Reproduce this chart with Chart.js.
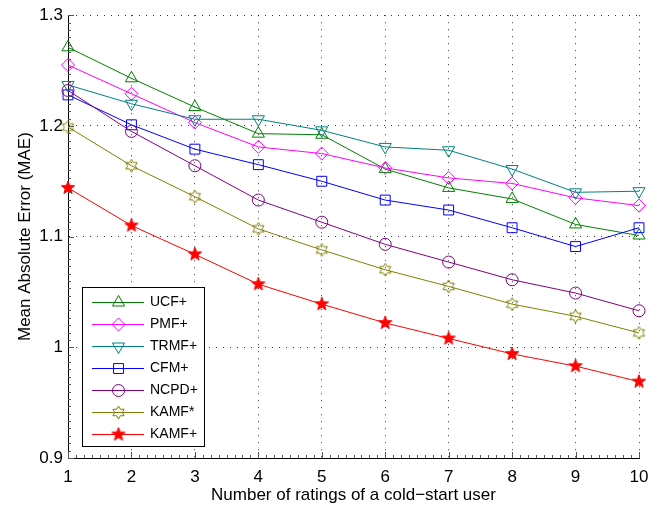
<!DOCTYPE html>
<html>
<head>
<meta charset="utf-8">
<script src="https://cdn.jsdelivr.net/npm/chart.js@4/dist/chart.umd.min.js"></script>
<style>
  html, body { margin: 0; padding: 0; background: #fff; }
  #wrap { width: 670px; height: 510px; }
</style>
</head>
<body>
<div id="wrap"><canvas id="chart" width="670" height="510"></canvas></div>
<script>
// Data
const ratings = ["1", "2", "3", "4", "5", "6", "7", "8", "9", "10"];
const ucf = [1.271, 1.243, 1.217, 1.193, 1.192, 1.161, 1.144, 1.134, 1.111, 1.101];
const pmf = [1.255, 1.229, 1.203, 1.181, 1.175, 1.162, 1.153, 1.148, 1.135, 1.128];
const trmf = [1.237, 1.220, 1.206, 1.206, 1.196, 1.181, 1.178, 1.161, 1.140, 1.141];
const cfm = [1.228, 1.201, 1.179, 1.165, 1.150, 1.133, 1.124, 1.108, 1.091, 1.108];
const ncpd = [1.232, 1.195, 1.164, 1.133, 1.113, 1.093, 1.077, 1.061, 1.049, 1.033];
const kamfStar = [1.199, 1.164, 1.136, 1.107, 1.088, 1.070, 1.055, 1.039, 1.028, 1.013];
const kamfPlus = [1.144, 1.110, 1.084, 1.057, 1.039, 1.022, 1.008, 0.994, 0.983, 0.969];
const yTicks = [0.9, 1.0, 1.1, 1.2, 1.3];

const FONT = "'Liberation Sans', Arial, Helvetica, sans-serif";

// star shaped markers drawn on small canvases
function makeStar(points, outer, inner, color, filled) {
  const size = Math.ceil(outer * 2 + 4);
  const c = document.createElement("canvas");
  c.width = size;
  c.height = size;
  const g = c.getContext("2d");
  const cx = size / 2, cy = size / 2;
  g.beginPath();
  for (let i = 0; i < points * 2; i++) {
    const r = i % 2 === 0 ? outer : inner;
    const a = -Math.PI / 2 + (i * Math.PI) / points;
    const px = cx + r * Math.cos(a);
    const py = cy + r * Math.sin(a);
    if (i === 0) g.moveTo(px, py);
    else g.lineTo(px, py);
  }
  g.closePath();
  if (filled) {
    g.fillStyle = color;
    g.fill();
  }
  g.strokeStyle = color;
  g.lineWidth = 1;
  g.stroke();
  return c;
}

const hexagram = makeStar(6, 6.5, 3.75, "#808000", false);
const pentagram = makeStar(5, 7, 2.9, "#ff0000", true);

function series(label, data, color, style, radius, rotation, order) {
  return {
    label: label,
    data: data,
    borderColor: color,
    backgroundColor: "rgba(0,0,0,0)",
    borderWidth: 1,
    pointStyle: style,
    pointRadius: radius,
    pointHoverRadius: radius,
    pointRotation: rotation || 0,
    pointBorderColor: color,
    pointBackgroundColor: "rgba(0,0,0,0)",
    pointBorderWidth: 1,
    tension: 0,
    fill: false,
    order: order,
  };
}

const datasets = [
  series("UCF+", ucf, "#008000", "triangle", 7, 0, 7),
  series("PMF+", pmf, "#ff00ff", "rectRot", 6.5, 0, 6),
  series("TRMF+", trmf, "#008080", "triangle", 7, 180, 5),
  series("CFM+", cfm, "#0000ff", "rect", 7, 0, 4),
  series("NCPD+", ncpd, "#800080", "circle", 6, 0, 3),
  series("KAMF*", kamfStar, "#808000", hexagram, 6, 0, 2),
  series("KAMF+", kamfPlus, "#ff0000", pentagram, 7, 0, 1),
];

// MATLAB-like inward ticks and minor ticks
const axisTicks = {
  id: "axisTicks",
  afterDraw(chart) {
    const { ctx, chartArea } = chart;
    const xs = chart.scales.x;
    const ys = chart.scales.y;
    ctx.save();
    ctx.strokeStyle = "#555";
    ctx.lineWidth = 1;
    ctx.beginPath();
    for (let i = 0; i < ratings.length; i++) {
      const px = Math.round(xs.getPixelForValue(i)) + 0.5;
      ctx.moveTo(px, chartArea.bottom);
      ctx.lineTo(px, chartArea.bottom - 6);
      if (i < ratings.length - 1) {
        for (let k = 1; k < 8; k++) {
          const mx = Math.round(xs.getPixelForValue(i + k / 8)) + 0.5;
          ctx.moveTo(mx, chartArea.bottom);
          ctx.lineTo(mx, chartArea.bottom - 3);
        }
      }
    }
    for (let j = 0; j < yTicks.length; j++) {
      const py = Math.round(ys.getPixelForValue(yTicks[j])) + 0.5;
      ctx.moveTo(chartArea.left, py);
      ctx.lineTo(chartArea.left + 6, py);
      if (j < yTicks.length - 1) {
        for (let k = 1; k < 15; k++) {
          const my = Math.round(ys.getPixelForValue(yTicks[j] + (0.1 * k) / 15)) + 0.5;
          ctx.moveTo(chartArea.left, my);
          ctx.lineTo(chartArea.left + 3, my);
        }
      }
    }
    ctx.stroke();
    ctx.restore();
  },
};

// legend box in the lower left, line + marker like MATLAB
const boxLegend = {
  id: "boxLegend",
  afterDraw(chart) {
    const ctx = chart.ctx;
    const x0 = 82, y0 = 287, w = 122, h = 159;
    ctx.save();
    ctx.fillStyle = "#fff";
    ctx.fillRect(x0, y0, w, h);
    ctx.strokeStyle = "#000";
    ctx.lineWidth = 1;
    ctx.strokeRect(x0 + 0.5, y0 + 0.5, w, h);
    chart.data.datasets.forEach((ds, i) => {
      const y = Math.round(y0 + 15 + i * 22) + 0.5;
      ctx.strokeStyle = ds.borderColor;
      ctx.lineWidth = 1;
      ctx.beginPath();
      ctx.moveTo(92, y);
      ctx.lineTo(144, y);
      ctx.stroke();
      ctx.fillStyle = "rgba(0,0,0,0)";
      Chart.helpers.drawPoint(ctx, {
        pointStyle: ds.pointStyle,
        radius: ds.pointRadius,
        rotation: ds.pointRotation,
        borderWidth: 1,
      }, 118.5, y);
      ctx.fillStyle = "#000";
      ctx.font = "14px " + FONT;
      ctx.textBaseline = "middle";
      ctx.textAlign = "left";
      ctx.fillText(ds.label, 150, y);
    });
    ctx.restore();
  },
};

const gridStyle = {
  color: "rgba(0,0,0,0.8)",
  lineWidth: 1,
  drawTicks: false,
};

new Chart(document.getElementById("chart"), {
  type: "line",
  data: { labels: ratings, datasets: datasets },
  options: {
    responsive: false,
    animation: false,
    devicePixelRatio: 1,
    layout: { padding: { top: 9, right: 31, left: 0, bottom: 0 } },
    plugins: {
      legend: { display: false },
      tooltip: { enabled: false },
    },
    scales: {
      x: {
        type: "category",
        offset: false,
        grid: gridStyle,
        border: { display: true, color: "#000", width: 1, dash: [1, 6] },
        ticks: {
          color: "#000",
          font: { family: FONT, size: 17 },
          padding: 9,
          maxRotation: 0,
          autoSkip: false,
        },
        title: {
          display: true,
          text: "Number of ratings of a cold\u2212start user",
          color: "#000",
          font: { family: FONT, size: 17 },
          padding: { top: 0, bottom: 4 },
        },
        afterFit(scale) { scale.height = 52; },
      },
      y: {
        min: 0.9,
        max: 1.3,
        grid: gridStyle,
        border: { display: true, color: "#000", width: 1, dash: [1, 6] },
        ticks: {
          stepSize: 0.1,
          color: "#000",
          font: { family: FONT, size: 17 },
          padding: 5,
          callback: (v) => String(Number(Number(v).toFixed(1))),
        },
        title: {
          display: true,
          text: "Mean Absolute Error (MAE)",
          color: "#000",
          font: { family: FONT, size: 17 },
          padding: { top: 15, bottom: 0 },
        },
        afterFit(scale) { scale.width = 68; },
      },
    },
  },
  plugins: [axisTicks, boxLegend],
});
</script>
</body>
</html>
